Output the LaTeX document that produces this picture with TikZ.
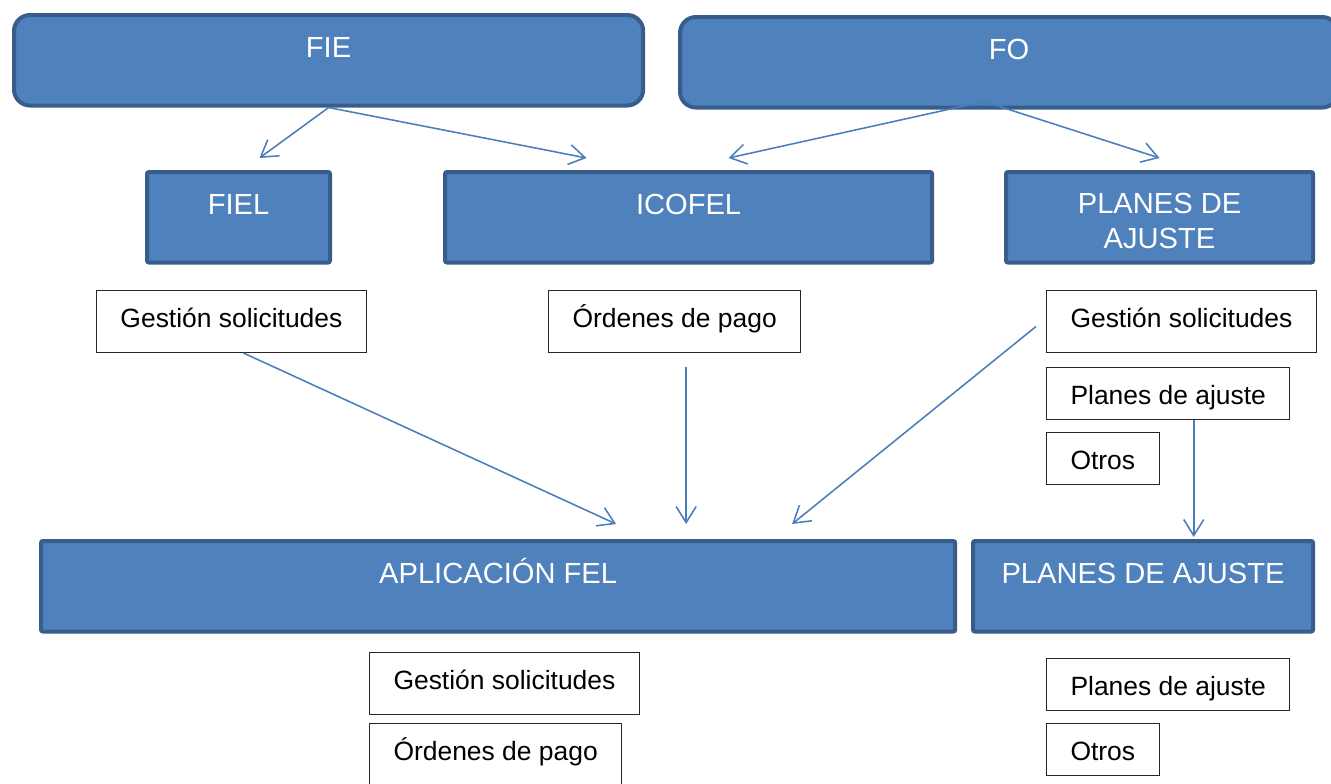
\documentclass[tikz,border=0pt]{standalone}
\usepackage{fontspec}
\setmainfont{Liberation Sans}
\usetikzlibrary{arrows.meta, positioning, calc}
\definecolor{boxblue}{HTML}{4F81BD}
\definecolor{boxedge}{HTML}{385D8A}
\definecolor{flowblue}{HTML}{4A7EBB}

\begin{document}
\begin{tikzpicture}[x=0.025cm, y=-0.025cm,
        area/.style={rectangle, draw=boxedge, line width=0.1cm, fill=boxblue, rounded corners=0.4cm, anchor=north west, align=center, text=white, font=\fontsize{20.7}{24.2}\selectfont, inner xsep=0pt, inner ysep=0pt, text height=1.0625cm, text depth=1.2cm},
        system/.style={area, rounded corners=0.05cm},
        twoline/.style={text height=1.9cm, text depth=0.3625cm},
        entry/.style={rectangle, draw=black!85, line width=0.7pt, fill=white, anchor=north west, inner xsep=0.6cm, inner ysep=0pt, text height=0.9125cm, text depth=0.6375cm, font=\fontsize{18.8}{22}\selectfont},
        short/.style={text depth=0.3875cm},
        flow/.style={draw=flowblue, line width=1.1pt, -{Straight Barb[length=0.4cm, width=0.5cm]}}
        ]
        \useasboundingbox (0,0) rectangle (1331,784);

        % Nodes
        \node (fie) [area, minimum width=15.725cm] at (12,13) {FIE};
        \node (fo) [area, minimum width=16.45cm] at (678,15) {FO};
        \node (fiel) [system, minimum width=4.575cm] at (145,170) {FIEL};
        \node (icofel) [system, minimum width=12.175cm] at (443,170) {ICOFEL};
        \node (planes) [system, twoline, minimum width=7.675cm] at (1004,170) {PLANES DE\\AJUSTE};
        \node (aplic) [system, minimum width=22.85cm] at (39,539) {APLICACIÓN FEL};
        \node (planesfel) [system, minimum width=8.5cm] at (971,539) {PLANES DE AJUSTE};

        \node (gestion1) [entry] at (96,290) {Gestión solicitudes};
        \node (ordenes1) [entry] at (548,290) {Órdenes de pago};
        \node (gestion2) [entry] at (1046,290) {Gestión solicitudes};
        \node (planes2) [entry, short, below=0.35cm of gestion2.south west, anchor=north west] {Planes de ajuste};
        \node (otros2) [entry, short, below=0.3cm of planes2.south west, anchor=north west] {Otros};
        \node (gestion3) [entry] at (369,652) {Gestión solicitudes};
        \node (ordenes3) [entry, below=0.2cm of gestion3.south west, anchor=north west] {Órdenes de pago};
        \node (planes3) [entry, short] at (1046,658) {Planes de ajuste};
        \node (otros3) [entry, short, below=0.3cm of planes3.south west, anchor=north west] {Otros};

        % Arrows
        \coordinate (foout) at ($(fo.south)+(-25,-8)$);
        \coordinate (ordout) at ($(ordenes1.south)+(11.5,14)$);
        \coordinate (plaout) at ($(planes2.south)+(25.5,0)$);
        \draw [flow] (fie.south) -- ($(fiel.north)+(21,-12)$);
        \draw [flow] (fie.south) -- ($(icofel.north)+(-102,-12)$);
        \draw [flow] (foout) -- ($(icofel.north)+(40,-12)$);
        \draw [flow] (foout) -- ($(planes.north)+(0,-12)$);
        \draw [flow] ($(gestion1.south)+(12,0)$) -- ($(aplic.north)+(118,-15)$);
        \draw [flow] (ordout) -- ($(ordout |- aplic.north)+(0,-15)$);
        \draw [flow] ($(gestion2.west)+(-10,5)$) -- ($(aplic.north)+(294,-15)$);
        \draw [flow] (plaout) -- ($(plaout |- planesfel.north)+(0,-2)$);

\end{tikzpicture}
\end{document}
